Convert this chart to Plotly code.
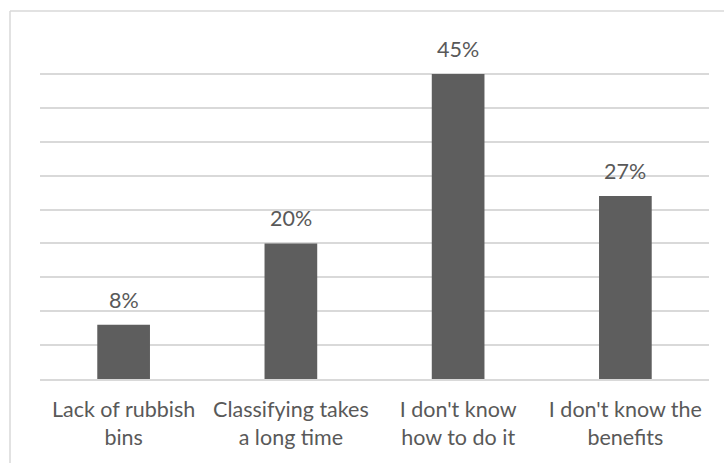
import plotly.graph_objects as go

categories = ["Lack of rubbish<br>bins", "Classifying takes<br>a long time",
              "I don't know<br>how to do it", "I don't know the<br>benefits"]
values = [8, 20, 45, 27]
value_labels = ["8%", "20%", "45%", "27%"]

TEXT = "#595959"
GRID = "#d9d9d9"
FONT = "Lato"
FS = 21.5

fig = go.Figure(
    go.Bar(
        x=categories,
        y=values,
        marker=dict(color="#5e5e5e", line=dict(width=0)),
        width=0.315,
        hoverinfo="skip",
    )
)

# value labels above each bar
for c, v, t in zip(categories, values, value_labels):
    fig.add_annotation(
        x=c, y=v, text=t, showarrow=False, yanchor="bottom", yshift=10,
        font=dict(family=FONT, size=FS, color=TEXT),
    )

# thin outer frame of the chart
W, H = 724, 463
l, r, t, b = 40, 15, 40, 84
pw, ph = W - l - r, H - t - b
fx0 = (10 - l) / pw
fy1 = 1 + (t - 11) / ph
fig.add_shape(type="line", xref="paper", yref="paper", x0=fx0, x1=1.2, y0=fy1, y1=fy1,
              line=dict(color=GRID, width=1.5))
fig.add_shape(type="line", xref="paper", yref="paper", x0=fx0, x1=fx0, y0=fy1, y1=-0.5,
              line=dict(color=GRID, width=1.5))

fig.update_layout(
    width=W, height=H,
    margin=dict(l=l, r=r, t=t, b=b),
    paper_bgcolor="white", plot_bgcolor="white",
    showlegend=False,
    font=dict(family=FONT, size=FS, color=TEXT),
    xaxis=dict(
        showgrid=False, showline=True, linecolor=GRID, linewidth=1.5,
        ticks="", tickfont=dict(family=FONT, size=FS, color=TEXT),
        ticklabelstandoff=10,
    ),
    yaxis=dict(
        range=[0, 50], dtick=5, showgrid=True, gridcolor=GRID, gridwidth=1.5,
        showticklabels=False, zeroline=False, showline=False, ticks="",
    ),
)

fig.write_html("out.html")
